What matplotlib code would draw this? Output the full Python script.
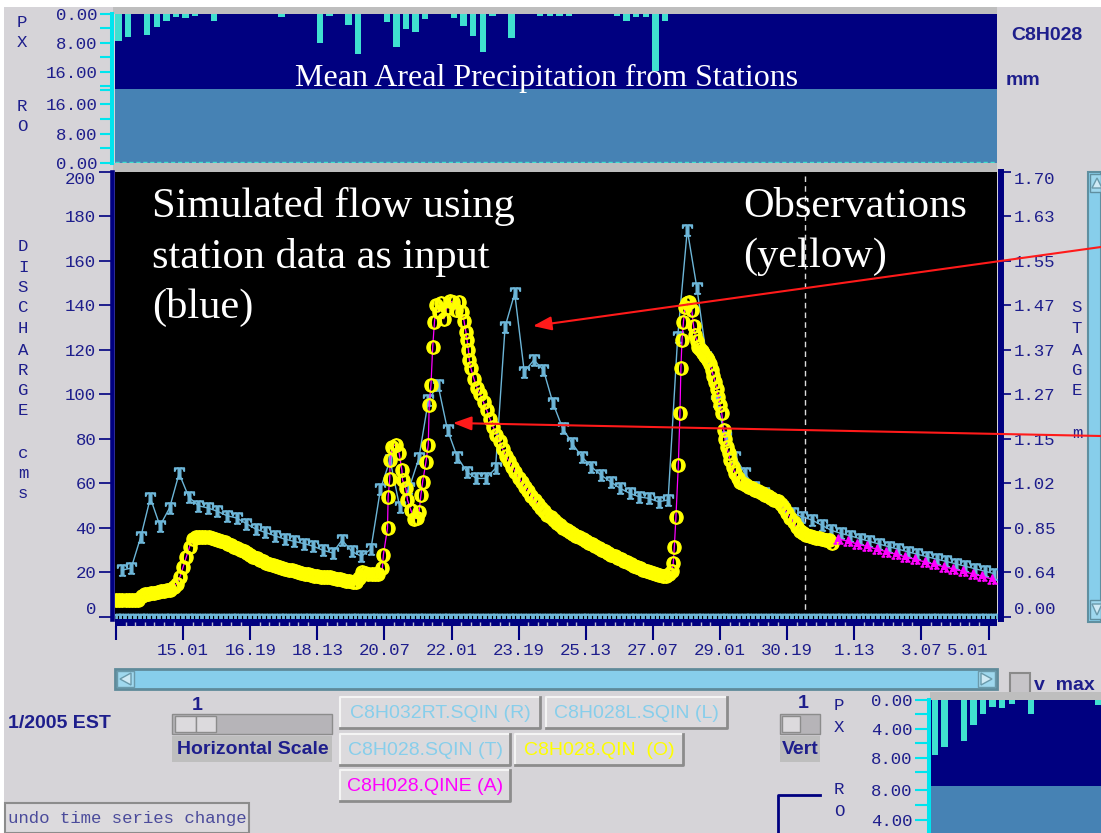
import matplotlib.pyplot as plt
from matplotlib.patches import Rectangle, Polygon
import numpy as np

plt.rcParams['font.family'] = ['Liberation Mono', 'DejaVu Sans Mono']
plt.rcParams['mathtext.fontset'] = 'stix'

# ---------------- data (time in hours from 13 Jan 07:00) ----------------
tick_hours = np.arange(0, 547, 42)
tick_labels = ['', '15.01', '16.19', '18.13', '20.07', '22.01', '23.19',
               '25.13', '27.07', '29.01', '30.19', '1.13', '3.07', '5.01']
flow_ticks = np.arange(0, 201, 20)
stage_labels = ['0.00', '0.64', '0.85', '1.02', '1.15', '1.27', '1.37',
                '1.47', '1.55', '1.63', '1.70']

# mean areal precipitation (6 h bars, mm)
precip_hours = [1.5, 7.5, 19.5, 25.5, 31.5, 37.5, 43.5, 49.5, 61.5, 103.5,
                127.5, 133.5, 145.5, 151.5, 169.5, 175.5, 181.5, 187.5, 193.5, 211.5,
                217.5, 223.5, 229.5, 235.5, 247.5, 265.5, 271.5, 277.5, 283.5, 313.5,
                319.5, 325.5, 331.5, 337.5, 343.5]
precip_mm = [7.6, 6.5, 5.7, 3.5, 1.9, 0.9, 1.1, 0.55, 1.9, 0.75,
             8.1, 0.5, 3.05, 11.1, 2.3, 9.25, 4.2, 5.1, 1.4, 1.1,
             3.2, 6.0, 10.6, 0.5, 6.7, 0.5, 0.5, 0.5, 0.5, 0.5,
             2.0, 0.75, 0.75, 15.7, 2.0]

# simulated flow C8H028.SQIN (T), 6-hourly
sim_hours = np.arange(3.5, 550, 6)
sim_flow = [21, 22, 36, 53.5, 41, 49, 64.5, 54, 50, 49,
            47.5, 45.5, 44.5, 42, 39.5, 38, 36.5, 35, 34, 33,
            31.8, 30, 28.8, 34.6, 29.5, 27.3, 30.5, 57.5, 70.6, 49.6,
            58, 71.3, 97.5, 104.3, 84, 72, 65.3, 62.3, 62.3, 66.8,
            130.5, 145.5, 110.2, 115.5, 111, 96, 84.8, 78, 72, 67.5,
            63.8, 60.8, 57.8, 55.6, 54, 53.3, 51.8, 52.6, 126, 174,
            148, 117, 97, 81, 72, 64.6, 58.6, 55.6, 52.6, 49.6,
            46.6, 45, 43.6, 41.3, 39, 37.6, 36.5, 35.2, 34, 32.8,
            31.6, 30.5, 29.3, 28.2, 27.1, 26, 25, 23.9, 22.8, 21.7,
            20.6, 19.5]

# observed flow C8H028.QIN (O)
obs_a_hours = np.arange(0, 165, 2)
obs_a_flow = [7.5, 7.5, 7.5, 7.5, 7.6, 7.6, 7.7, 7.8, 9.5, 10.2,
              10.4, 10.6, 11.0, 11.4, 11.6, 11.8, 12.0, 12.3, 13.5, 15.0,
              18.0, 22.5, 27.0, 31.5, 35.0, 35.8, 36.0, 36.0, 36.0, 35.8,
              35.4, 35.0, 34.5, 34.0, 33.5, 33.0, 32.4, 31.6, 30.9, 30.2,
              29.5, 28.7, 27.9, 27.1, 26.3, 25.6, 25.0, 24.4, 23.8, 23.2,
              22.7, 22.3, 21.9, 21.5, 21.2, 20.9, 20.5, 20.1, 19.8, 19.5,
              19.2, 18.9, 18.6, 18.4, 18.2, 18.0, 17.9, 17.8, 17.5, 17.2,
              16.9, 16.6, 16.4, 16.2, 15.9, 15.7, 17.5, 20.2, 19.6, 19.3,
              19.2, 19.2, 19.4]
obs_b_hours = [166.7, 167.3, 169.9, 170.3, 171.3, 171.5, 173.0, 175.1, 177.2, 178.9,
               179.3, 181.4, 182.4, 184.5, 186.6, 188.3, 189.7, 190.8, 191.9, 194.0,
               195.4, 196.0, 197.1, 198.2, 199.3, 200.4, 202.1, 203.3, 205.2, 207.1,
               209.0, 210.9, 212.8, 214.6, 216.5, 217.8, 219.0, 219.7, 220.5, 221.1]
obs_b_flow = [21.9, 27.9, 39.9, 54.0, 61.9, 70.6, 76.5, 77.5, 73.6, 66.0,
              61.6, 57.8, 52.6, 48.1, 44.0, 44.5, 47.3, 54.8, 60.8, 69.8,
              77.3, 95.3, 104.3, 121.5, 132.7, 140.2, 137.0, 141.0, 134.0, 139.0,
              142.0, 141.5, 138.0, 141.5, 137.0, 133.0, 128.0, 124.5, 120.0, 115.5]
obs_c_hours = np.arange(222, 349, 2)
obs_c_flow = [112, 107, 103, 100, 96.5, 93, 89, 85.5, 82, 79,
              75.5, 72.5, 70, 67.5, 65, 62.5, 60.5, 58.5, 56.5, 54.5,
              52.5, 50.8, 49.2, 47.5, 46, 44.8, 43.5, 42.2, 41.2, 40.2,
              39.2, 38.2, 37.4, 36.6, 35.8, 35, 34.2, 33.4, 32.6, 31.8,
              31, 30.2, 29.5, 28.8, 28, 27.3, 26.6, 25.9, 25.2, 24.5,
              23.8, 23.1, 22.4, 21.8, 21.2, 20.6, 20.1, 19.6, 19.2, 18.8,
              18.5, 18.4, 19.2, 20.5]
obs_d_hours = [348.7, 349.4, 350.4, 351.9, 352.9, 353.5, 354.2, 355.1, 356.1, 357.3,
               358.6, 360.3, 361.4, 362.4, 363.5, 364.5, 365.5, 366.5, 367.6, 368.6,
               369.6, 370.7, 371.7, 372.8, 373.8, 374.9, 376.0, 377.0, 378.0, 379.1,
               380.2, 381.2, 382.2, 383.3, 384.3, 385.8, 387.4, 389.0, 390.6]
obs_d_flow = [24.1, 31.6, 45.0, 68.3, 91.5, 111.8, 124.5, 132.7, 139.5, 141.0,
              141.7, 138.0, 131.0, 126.7, 124.0, 121.5, 120.5, 119.5, 118.5, 117.5,
              116.5, 115.5, 113.5, 111.0, 108.5, 105.8, 102.5, 99.0, 95.5, 91.5,
              84.0, 80.0, 76.5, 73.5, 70.6, 67.5, 64.6, 62.5, 60.8]
obs_e_hours = np.arange(392, 449, 2)
obs_e_flow = [60, 59.4, 58.6, 58, 57.3, 56.5, 55.8, 55, 54.2, 53.5,
              52.8, 52, 50.8, 48.8, 46.8, 44.5, 42.5, 40.5, 38.8, 37.8,
              37, 36.5, 36, 35.6, 35.3, 35, 34.8, 34.6, 33.1]

# QINE (A) continuing after the last observation
qine_hours = np.arange(452, 549, 6)
qine_flow = [35.2, 34, 32.8, 31.7, 30.5, 29.4, 28.2, 27, 25.9,
             24.8, 23.6, 22.6, 21.6, 20.5, 19.4, 18.3, 17.1]

# R / L series sitting on zero
rl_hours = np.arange(1, 551, 3)
rl_flow = np.zeros(len(rl_hours))

now_hour = 431

obs_hours = np.concatenate([obs_a_hours, obs_b_hours, obs_c_hours, obs_d_hours, obs_e_hours])
obs_flow = np.concatenate([obs_a_flow, obs_b_flow, obs_c_flow, obs_d_flow, obs_e_flow])

# ---------------- layout helpers ----------------
W, H = 1101, 833
NAVY = '#000080'
TXT = '#1e1e8c'
BG = '#d6d4d8'
GRAY = '#bebebe'
CYAN = '#00e5ee'
TURQ = '#40e0d0'
STEEL = '#4682b4'
SKY = '#87ceeb'
TBLUE = '#6db6d8'
YEL = '#ffff00'
MAG = '#ff00ff'
X0, S = 116, 1.598   # pixel of hour 0, pixels per hour


def box(x0, y0, x1, y1):
    return [x0 / W, 1 - y1 / H, (x1 - x0) / W, (y1 - y0) / H]


def hx(px):
    return (px - X0) / S


fig = plt.figure(figsize=(W / 100, H / 100), dpi=100)
fig.patch.set_facecolor(BG)

ui = fig.add_axes([0, 0, 1, 1], zorder=-5)
ui.set_xlim(0, W)
ui.set_ylim(H, 0)
ui.axis('off')


def rect(x0, y0, x1, y1, fc, ec='none', lw=0, z=1):
    ui.add_patch(Rectangle((x0, y0), x1 - x0, y1 - y0, fc=fc, ec=ec, lw=lw, zorder=z))


def button(x0, y0, x1, y1, label, color):
    rect(x0, y0, x1, y1, '#dcdadd')
    ui.plot([x0, x0, x1], [y1, y0, y0], color='#f4f4f4', lw=1.5, zorder=2)
    ui.plot([x0, x1, x1], [y1, y1, y0], color='#8c8c8c', lw=2, zorder=2)
    ui.text((x0 + x1) / 2, (y0 + y1) / 2 + 1, label, color=color, ha='center', va='center',
            fontsize=14, family='Liberation Sans', zorder=3)


rect(0, 0, W, 7, 'white')
rect(0, 0, 4, H, 'white')
rect(113, 7, 997, 14, GRAY)
rect(113, 163, 997, 172, GRAY)

# ---------------- precipitation panels ----------------
def left_axis(a, color, majors, labels, minors, tick_len=9):
    for s in ['top', 'right', 'bottom']:
        a.spines[s].set_visible(False)
    a.spines['left'].set_color(color)
    a.spines['left'].set_linewidth(2.9)
    a.spines['left'].set_position(('outward', 1.5))
    a.set_xticks([])
    a.set_yticks(majors)
    a.set_yticklabels(labels)
    a.set_yticks(minors, minor=True)
    a.tick_params(axis='y', which='both', colors=color, length=tick_len, width=1.5,
                  labelcolor=TXT, labelsize=12.5, pad=2)


axp = fig.add_axes(box(114.5, 14, 997, 89), facecolor=NAVY)
axp.bar(precip_hours, precip_mm, width=4, color=TURQ)
axp.set_xlim(hx(114.5), hx(997))
axp.set_ylim(20.8, 0)
left_axis(axp, CYAN, [0, 8, 16], ['0.00', '8.00', '16.00'], [4, 12, 20])

axr = fig.add_axes(box(114.5, 89, 997, 163), facecolor=STEEL)
axr.axhline(0.25, color=TURQ, lw=1, ls=(0, (3, 2)))
axr.set_xlim(hx(114.5), hx(997))
axr.set_ylim(0, 20.2)
left_axis(axr, CYAN, [0, 8, 16], ['0.00', '8.00', '16.00'], [4, 12, 20])

# ---------------- main hydrograph ----------------
ax = fig.add_axes(box(115, 172, 997, 619), facecolor='black')
ax.axvline(now_hour, color='#dddddd', lw=1, ls=(0, (4, 3)), zorder=1)
ax.plot(rl_hours, rl_flow, ls='none', marker='$\\mathrm{n}$', ms=5, color=TBLUE, zorder=2)
ax.plot(sim_hours, sim_flow, color=TBLUE, lw=1, marker='$\\mathbf{T}$', ms=8, zorder=2)
ax.plot(obs_hours, obs_flow, color=MAG, lw=0.9, zorder=3)
ax.plot(obs_hours, obs_flow, ls='none', marker='$\\mathbf{O}$', ms=9.5, color=YEL,
        mec=YEL, mew=1.0, zorder=4)
ax.plot(qine_hours, qine_flow, color=MAG, lw=1, marker='$\\mathbf{A}$', ms=6.5, zorder=5)
ax.set_xlim(hx(115), hx(997))
ax.set_ylim(-0.9, 200)
for s in ['top', 'right', 'bottom']:
    ax.spines[s].set_visible(False)
ax.spines['left'].set_color(NAVY)
ax.spines['left'].set_linewidth(3.3)
ax.spines['left'].set_position(('outward', 2))
ax.tick_params(axis='x', bottom=False, labelbottom=False)
ax.set_yticks(flow_ticks)
ax.set_yticklabels([str(v) for v in flow_ticks])
ax.tick_params(axis='y', colors=NAVY, length=9.5, width=1.2, labelcolor=TXT,
               labelsize=12.5, pad=2)
ylab = ax.get_yticklabels()
ylab[0].set_va('bottom')
ylab[-1].set_va('top')

ax2 = ax.twinx()
ax2.set_ylim(-0.9, 200)
for s in ['top', 'left', 'bottom']:
    ax2.spines[s].set_visible(False)
ax2.spines['right'].set_color(NAVY)
ax2.spines['right'].set_linewidth(4.3)
ax2.spines['right'].set_position(('outward', 3))
ax2.set_yticks(flow_ticks)
ax2.set_yticklabels(stage_labels)
ax2.tick_params(axis='y', colors=NAVY, length=7, width=1.2, labelcolor=TXT,
                labelsize=12.5, pad=2)
ax2.tick_params(axis='x', bottom=False, labelbottom=False)
slab = ax2.get_yticklabels()
slab[0].set_va('bottom')
slab[-1].set_va('top')

axb = fig.add_axes(box(115, 619, 997, 626), facecolor=NAVY)
axb.set_xlim(hx(115), hx(997))
axb.set_yticks([])
for s in axb.spines.values():
    s.set_visible(False)
axb.set_xticks(tick_hours)
axb.set_xticklabels(tick_labels)
axb.set_xticks(np.arange(0, 552, 6), minor=True)
axb.tick_params(axis='x', which='major', colors=NAVY, length=10, width=1.5,
                labelcolor=TXT, labelsize=12.5, pad=2)
axb.tick_params(axis='x', which='minor', direction='in', colors='#b8b8d0', length=3, width=1)
axb.get_xticklabels()[-1].set_ha('right')

# ---------------- mini precipitation panel (bottom right) ----------------
mp = fig.add_axes(box(931, 700, 1101, 786), facecolor=NAVY)
mp.bar(precip_hours, precip_mm, width=4, color=TURQ)
mp.set_xlim(hx(931) - hx(935) + 1.5, 1.5 + (1101 - 935) / S)
mp.set_ylim(11.9, 0)
left_axis(mp, CYAN, [0, 4, 8], ['0.00', '4.00', '8.00'], [2, 6, 10], tick_len=10)

mr = fig.add_axes(box(931, 786, 1101, 833), facecolor=STEEL)
mr.set_xlim(0, 1)
mr.set_ylim(2.27, 8.53)
left_axis(mr, CYAN, [4, 8], ['4.00', '8.00'], [6], tick_len=10)
rect(930, 692, W, 700, GRAY, z=5)

# ---------------- GUI text and widgets ----------------
mono = dict(color=TXT, fontsize=12.5, ha='center', va='center')
for ch, y in zip('PXRO', [22, 42, 106, 126]):
    ui.text(22, y, ch, **mono)
for ch, y in zip('DISCHARGE', [246, 267, 287, 307, 328, 350, 370, 390, 410]):
    ui.text(23, y, ch, **mono)
for ch, y in zip('cms', [453, 473, 493]):
    ui.text(23, y, ch, **mono)
for ch, y in zip('STAGEm', [307, 328, 350, 370, 390, 433]):
    ui.text(1077, y, ch, **mono)
for ch, y in zip('PXRO', [706, 728, 790, 812]):
    ui.text(839, y, ch, **mono)

sans_b = dict(color=TXT, fontsize=14, family='Liberation Sans', weight='bold')
ui.text(1047, 35, 'C8H028', ha='center', va='center', **sans_b)
ui.text(1006, 80, 'mm', ha='left', va='center', **sans_b)

# right vertical scrollbar
rect(1088, 172, 1101, 622, SKY, ec='#5f8fa0', lw=1.5)
rect(1090, 174, 1101, 192, '#9fd8ee', ec='#5f8fa0', lw=1)
rect(1090, 600, 1101, 619, '#9fd8ee', ec='#5f8fa0', lw=1)
ui.add_patch(Polygon([[1092, 188], [1097, 178], [1102, 188]], closed=True, fc='#cfeaf5', ec='#6a9aab', lw=1))
ui.add_patch(Polygon([[1092, 604], [1097, 615], [1102, 604]], closed=True, fc='#cfeaf5', ec='#6a9aab', lw=1))

# horizontal scrollbar
rect(115, 669, 997, 689, SKY, ec='#5f8a9a', lw=2)
rect(117, 671, 134, 687, '#9fd8ee', ec='#6a9aab', lw=1)
rect(978, 671, 995, 687, '#9fd8ee', ec='#6a9aab', lw=1)
ui.add_patch(Polygon([[131, 673], [120, 679], [131, 685]], closed=True, fc='#cfeaf5', ec='#6a9aab', lw=1))
ui.add_patch(Polygon([[981, 673], [992, 679], [981, 685]], closed=True, fc='#cfeaf5', ec='#6a9aab', lw=1))

# v max checkbox
rect(1010, 673, 1030, 694, '#c6c4c8', ec='#8a8a8a', lw=1.5)
ui.text(1034, 686, 'v  max', ha='left', va='center', zorder=4, **sans_b)

ui.text(8, 723, '1/2005 EST', ha='left', va='center', **sans_b)

# horizontal scale slider
ui.text(197, 705, '1', ha='center', va='center', **sans_b)
rect(172, 714, 332, 734, '#b6b4b8', ec='#8c8c8c', lw=1)
rect(175, 716, 196, 732, '#dcdadd', ec='#8c8c8c', lw=1)
rect(196, 716, 216, 732, '#dcdadd', ec='#8c8c8c', lw=1)
rect(172, 736, 332, 762, GRAY)
ui.text(253, 749, 'Horizontal Scale', ha='center', va='center', **sans_b)

# vertical scale slider (partly hidden)
ui.text(803, 704, '1', ha='center', va='center', **sans_b)
rect(780, 714, 820, 734, '#b6b4b8', ec='#8c8c8c', lw=1)
rect(782, 716, 800, 732, '#dcdadd', ec='#8c8c8c', lw=1)
rect(780, 736, 820, 762, GRAY)
ui.text(782, 749, 'Vert', ha='left', va='center', **sans_b)
ui.plot([820, 778, 778], [795, 795, 833], color=NAVY, lw=2)

# series buttons
button(340, 697, 540, 728, 'C8H032RT.SQIN (R)', SKY)
button(546, 697, 727, 728, 'C8H028L.SQIN (L)', SKY)
button(340, 734, 510, 765, 'C8H028.SQIN (T)', SKY)
button(515, 734, 683, 765, 'C8H028.QIN  (O)', YEL)
button(340, 770, 510, 801, 'C8H028.QINE (A)', MAG)

rect(5, 803, 249, 833, '#dcdadd', ec='#8c8c8c', lw=1.5)
ui.text(127, 819, 'undo time series change', color='#4b4b9b', fontsize=12.5,
        ha='center', va='center')

# ---------------- annotations on top ----------------
top = fig.add_axes([0, 0, 1, 1], zorder=20)
top.set_xlim(0, W)
top.set_ylim(H, 0)
top.axis('off')
serif = dict(color='white', family='Liberation Serif', va='baseline', ha='left')
top.text(547, 86, 'Mean Areal Precipitation from Stations', color='white',
         family='Liberation Serif', va='baseline', ha='center', fontsize=23)
for line, y in zip(['Simulated flow using', 'station data as input', '(blue)'], [217, 268, 318]):
    top.text(152, y, line, fontsize=30.5, **serif)
for line, y in zip(['Observations', '(yellow)'], [217, 267]):
    top.text(743, y, line, fontsize=30.5, **serif)

arrow = dict(arrowstyle='-|>,head_length=0.8,head_width=0.3', mutation_scale=14,
             color='#ff1a1a', lw=1.5, shrinkA=0, shrinkB=0)
top.annotate('', xy=(533, 326), xytext=(1101, 247), arrowprops=arrow)
top.annotate('', xy=(453, 423), xytext=(1101, 436), arrowprops=arrow)

fig.savefig('out.png', dpi=100)
